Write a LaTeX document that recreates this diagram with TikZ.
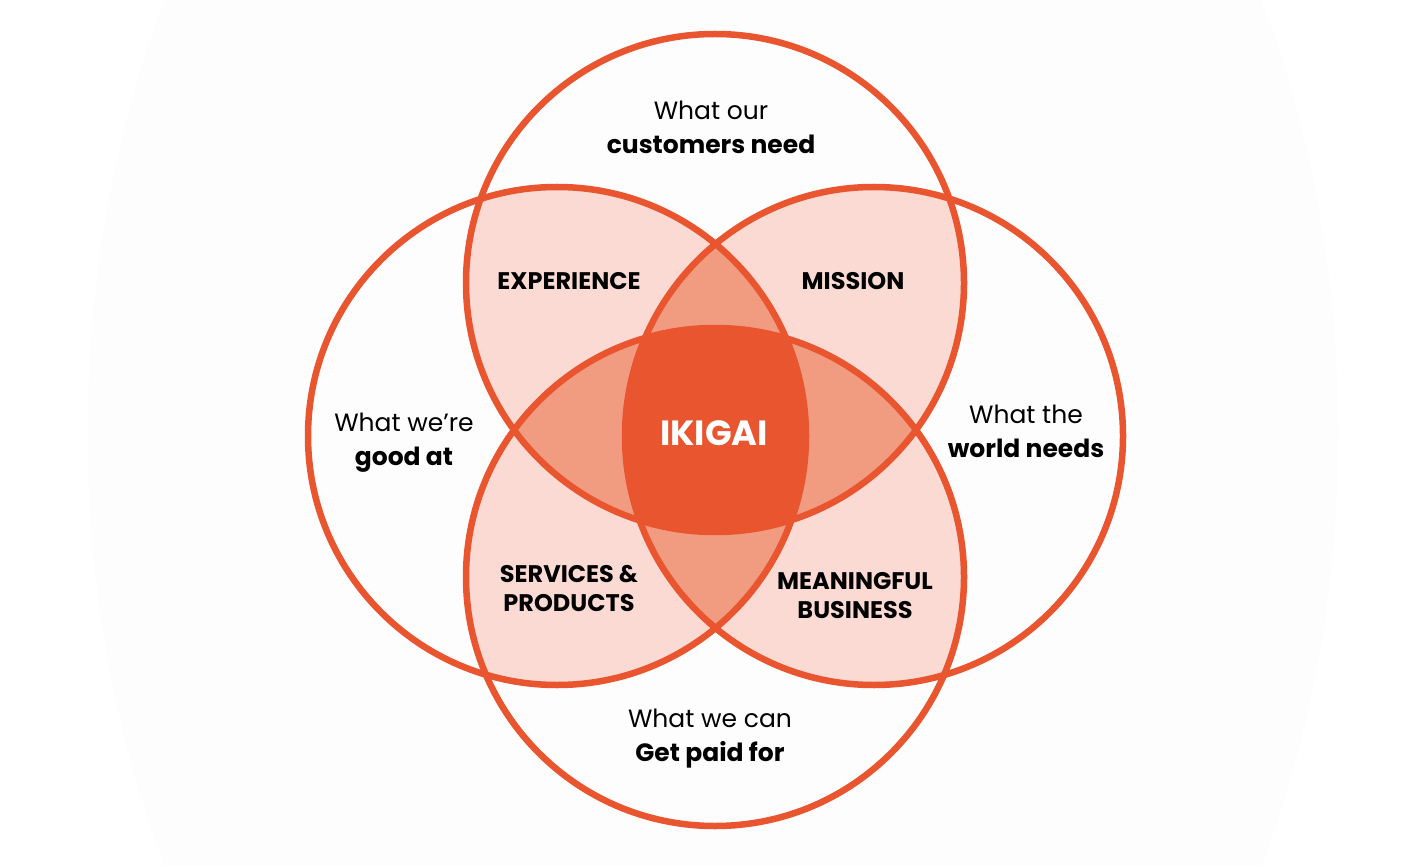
\documentclass[tikz,border=0pt]{standalone}
\usepackage{fontspec}
\setmainfont{Poppins}
\definecolor{ringc}{HTML}{E8552F}
\definecolor{lightc}{HTML}{FADAD2}
\definecolor{midc}{HTML}{F19B81}
\definecolor{darkc}{HTML}{E8552F}
\definecolor{bgc}{HTML}{FEFDFD}
\tikzset{
  ring/.style={draw=ringc, line width=6.5pt},
  biglabel/.style={align=center, font=\fontsize{25}{34}\selectfont, text=black, inner sep=0pt},
  caplabel/.style={align=center, font=\fontsize{24}{29}\selectfont\bfseries, text=black, inner sep=0pt},
  centerlabel/.style={font=\fontsize{35}{38}\selectfont\bfseries, text=white, inner sep=0pt}
}
\def\cT{(715,283) circle[radius=249pt]}
\def\cL{(557,436) circle[radius=249pt]}
\def\cR{(874,436) circle[radius=249pt]}
\def\cB{(715,577) circle[radius=249pt]}
\begin{document}
\begin{tikzpicture}[x=1pt,y=-1pt]
\useasboundingbox (0,0) rectangle (1421,866);
\fill[white] (0,0) rectangle (1421,866);
\fill[bgc] (713,433) ellipse[x radius=625pt, y radius=900pt];
% pair overlaps
\begin{scope}\clip \cT; \fill[lightc] \cL; \end{scope}
\begin{scope}\clip \cT; \fill[lightc] \cR; \end{scope}
\begin{scope}\clip \cB; \fill[lightc] \cL; \end{scope}
\begin{scope}\clip \cB; \fill[lightc] \cR; \end{scope}
\begin{scope}\clip \cT; \fill[lightc] \cB; \end{scope}
\begin{scope}\clip \cL; \fill[lightc] \cR; \end{scope}
% triple overlaps
\begin{scope}\clip \cT; \clip \cL; \fill[midc] \cR; \end{scope}
\begin{scope}\clip \cT; \clip \cL; \fill[midc] \cB; \end{scope}
\begin{scope}\clip \cT; \clip \cR; \fill[midc] \cB; \end{scope}
\begin{scope}\clip \cL; \clip \cR; \fill[midc] \cB; \end{scope}
% quadruple overlap
\begin{scope}\clip \cT; \clip \cL; \clip \cR; \fill[darkc] \cB; \end{scope}
% rings
\draw[ring] \cT;
\draw[ring] \cL;
\draw[ring] \cR;
\draw[ring] \cB;
% labels
\node[biglabel] (top) at (711,127) {What our\\\textbf{customers need}};
\node[biglabel] (left) at (404,443) {What we’re\\\textbf{good at}};
\node[biglabel] (right) at (1026,431) {What the\\\textbf{world needs}};
\node[biglabel] (bottom) at (710,739) {What we can\\\textbf{Get paid for}};
\node[caplabel] (exp) at (569,281) {EXPERIENCE};
\node[caplabel] (mis) at (853,281) {MISSION};
\node[caplabel] (ser) at (569,588) {SERVICES \&\\PRODUCTS};
\node[caplabel] (mea) at (855,596) {MEANINGFUL\\BUSINESS};
\node[centerlabel] (iki) at (714,433) {IKIGAI};
\end{tikzpicture}
\end{document}
